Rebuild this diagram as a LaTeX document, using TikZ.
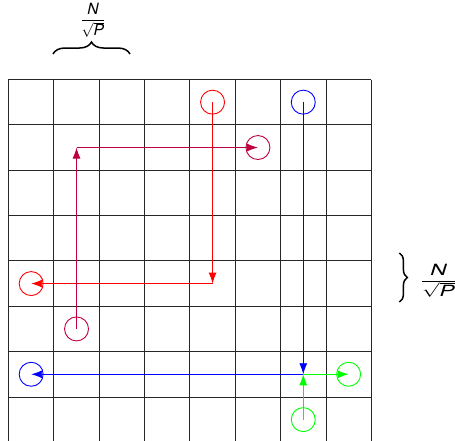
\documentclass[tikz,border=0pt]{standalone}
\usepackage{fontspec}
\setmainfont{TeX Gyre Heros}
\usetikzlibrary{arrows.meta,decorations.pathreplacing}
\definecolor{mypurple}{rgb}{0.75,0,0.25}
\newcommand{\NsP}{\fontsize{15.5}{17}\selectfont$\displaystyle\frac{\mbox{\itshape N}}{\sqrt{\mbox{\itshape P}}}$}
\begin{document}
\begin{tikzpicture}[x=45.35pt,y=-45.35pt,
  gridline/.style={line width=0.8pt,black!85},
  ring/.style={circle,draw,line width=0.9pt,minimum size=24pt,inner sep=0pt},
  flow/.style={line width=0.9pt,-{Latex[length=11pt,width=8pt]}},
  bracemark/.style={line width=1.5pt,decorate,decoration={brace,amplitude=12pt}},
  lbl/.style={inner sep=0pt}]
\useasboundingbox (-0.1874,-1.753) rectangle (9.846,7.971);
% grid
\foreach \i in {0,...,8} {
  \draw[gridline] (\i,0) -- (\i,8);
  \draw[gridline] (0,\i) -- (8,\i);
}
% circles
\node[ring,red] (r1) at (4.5,0.5) {};
\node[ring,red] (r2) at (0.5,4.5) {};
\node[ring,mypurple] (p1) at (1.5,5.5) {};
\node[ring,mypurple] (p2) at (5.5,1.5) {};
\node[ring,blue] (b1) at (6.5,0.5) {};
\node[ring,blue] (b2) at (0.5,6.5) {};
\node[ring,green] (g1) at (6.5,7.5) {};
\node[ring,green] (g2) at (7.5,6.5) {};
% corners
\coordinate (rc) at (4.5,4.5);
\coordinate (pc) at (1.5,1.5);
\coordinate (bc) at (6.5,6.5);
% arrows
\draw[flow,red] (r1.center) -- (rc);
\draw[flow,red] (rc) -- (r2.center);
\draw[flow,mypurple] (p1.center) -- (pc);
\draw[flow,mypurple] (pc) -- (p2.center);
\draw[flow,blue] (b1.center) -- (bc);
\draw[flow,blue] (bc) -- (b2.center);
\draw[flow,green] (g1.center) -- (bc);
\draw[flow,green] (bc) -- (g2.center);
% braces
\coordinate (tb1) at (0.981,-0.562);
\coordinate (tb2) at (2.679,-0.562);
\draw[bracemark] (tb1) -- (tb2);
\node[lbl] (tl) at (1.86,-1.31) {\NsP};
\coordinate (rb1) at (8.62,3.826);
\coordinate (rb2) at (8.62,4.906);
\draw[bracemark,decoration={brace,amplitude=8pt}] (rb1) -- (rb2);
\node[lbl,xscale=1.45] (rl) at (9.48,4.44) {\NsP};
\end{tikzpicture}
\end{document}
